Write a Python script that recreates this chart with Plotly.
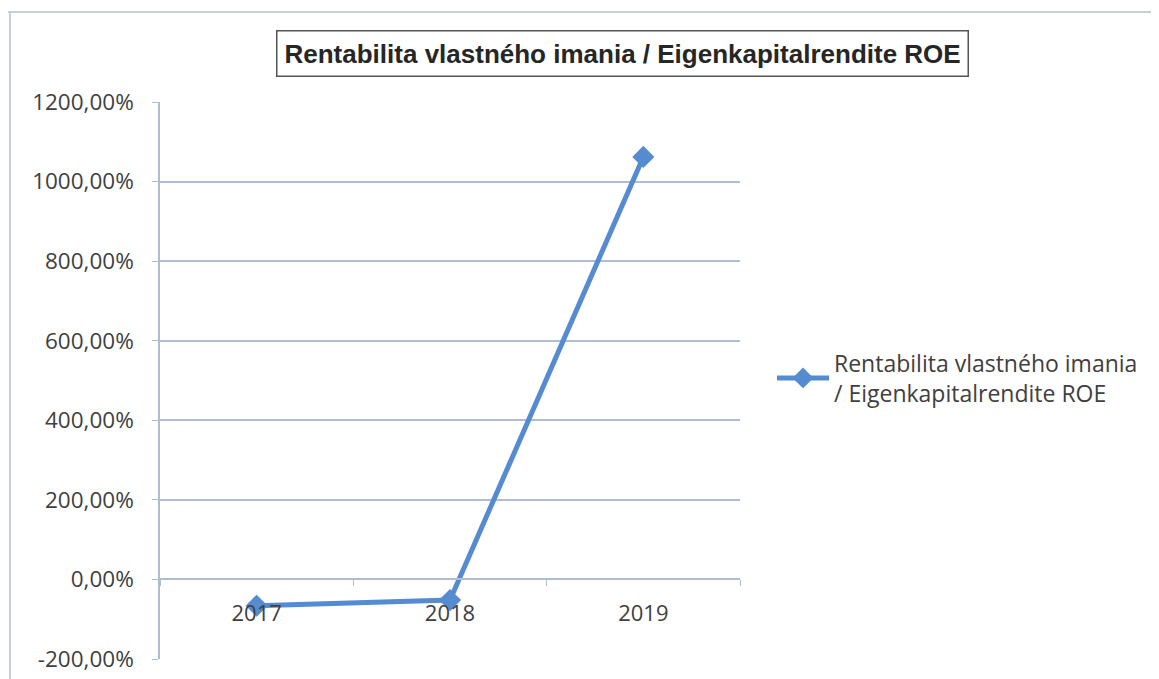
import plotly.graph_objects as go

years = ["2017", "2018", "2019"]
roe = [-66, -52, 1062]
tick_vals = [-200, 0, 200, 400, 600, 800, 1000, 1200]
tick_labels = ["-200,00%", "0,00%", "200,00%", "400,00%", "600,00%", "800,00%", "1000,00%", "1200,00%"]
series_name = "Rentabilita vlastného imania<br>/ Eigenkapitalrendite ROE"
title_text = "Rentabilita vlastného imania / Eigenkapitalrendite ROE"

blue = "#558bd0"
grid = "#aebdd2"
txt = "#404040"

# page body has an 8px margin; compensate
W, H = 1151, 671
L, T = 152, 94
PW, PH = 580, 557

fig = go.Figure()
fig.add_trace(go.Scatter(
    x=years, y=roe, mode="lines+markers", name=series_name,
    line=dict(color=blue, width=5),
    marker=dict(symbol="diamond", size=17, color=blue),
))

fig.update_layout(
    width=W, height=H,
    margin=dict(l=L, r=W - L - PW, t=T, b=H - T - PH),
    paper_bgcolor="white", plot_bgcolor="white",
    font=dict(family="Open Sans, sans-serif", color=txt, size=22),
    showlegend=True,
    legend=dict(x=(772 - 160) / PW, y=1 - (378 - 102) / PH, xanchor="left", yanchor="middle",
                font=dict(size=23, color=txt), bgcolor="rgba(0,0,0,0)",
                itemwidth=52, tracegroupgap=0),
    xaxis=dict(type="category", anchor="free", position=200/1400,
               showgrid=False, showline=True, linecolor=grid, linewidth=1.5,
               ticks="outside", ticklen=6, tickcolor=grid, tickson="boundaries",
               ticklabelstandoff=14,
               tickfont=dict(size=22, color=txt), range=[-0.5, 2.5]),
    yaxis=dict(range=[-200, 1200], tickvals=tick_vals, ticktext=tick_labels,
               showgrid=True, gridcolor=grid, gridwidth=1.5,
               showline=True, linecolor=grid, linewidth=1.5,
               ticks="outside", ticklen=6, tickcolor=grid,
               ticklabelstandoff=14, automargin=False,
               zeroline=False, tickfont=dict(size=22.5, color=txt)),
)

fig.add_annotation(
    text="<b>" + title_text + "</b>", xref="paper", yref="paper",
    x=(622 - 160) / PW, y=1 + (102 - 53) / PH, xanchor="center", yanchor="middle",
    showarrow=False, font=dict(family="Liberation Sans Narrow, Arial Narrow, Liberation Sans, sans-serif", size=26, color="#262626"),
    bordercolor="#555555", borderwidth=1.5, borderpad=7, bgcolor="white",
)

# outer chart frame
fig.add_shape(type="line", xref="paper", yref="paper",
              x0=-152/PW, x1=999/PW, y0=1 + 90/PH, y1=1 + 90/PH,
              line=dict(color="#c8ced6", width=2))
fig.add_shape(type="line", xref="paper", yref="paper",
              x0=-150/PW, x1=-150/PW, y0=1 + 90/PH, y1=-20/PH,
              line=dict(color="#c8ced6", width=2))

fig.write_html("out.html")
